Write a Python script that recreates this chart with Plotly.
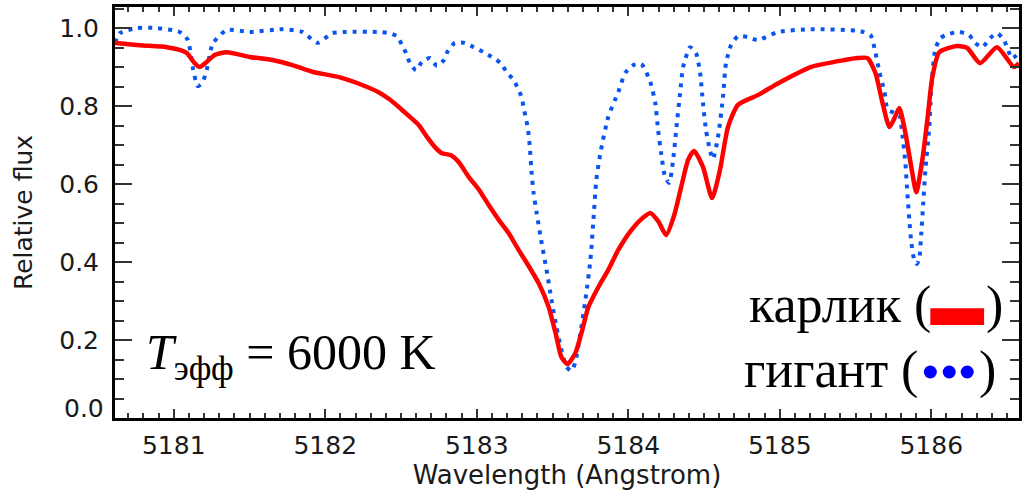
import plotly.graph_objects as go

# Dwarf (карлик) spectrum: wavelength (Å) and relative flux
dwarf_wl = [5180.612, 5180.776, 5180.954, 5181.039, 5181.086, 5181.138, 5181.171, 5181.217, 5181.270,
            5181.349, 5181.500, 5181.651, 5181.783, 5181.914, 5182.092, 5182.243, 5182.355, 5182.421,
            5182.487, 5182.553, 5182.618, 5182.671, 5182.730, 5182.770, 5182.829, 5182.882, 5182.947,
            5183.013, 5183.079, 5183.145, 5183.211, 5183.276, 5183.342, 5183.408, 5183.474, 5183.520,
            5183.559, 5183.599, 5183.651, 5183.691, 5183.737, 5183.803, 5183.868, 5183.934, 5184.020,
            5184.086, 5184.145, 5184.197, 5184.250, 5184.303, 5184.349, 5184.395, 5184.434, 5184.493,
            5184.553, 5184.605, 5184.658, 5184.724, 5184.855, 5184.987, 5185.204, 5185.428, 5185.513,
            5185.579, 5185.632, 5185.678, 5185.724, 5185.757, 5185.789, 5185.829, 5185.875, 5185.901,
            5185.941, 5185.974, 5186.007, 5186.053, 5186.171, 5186.237, 5186.322, 5186.434, 5186.546,
            5186.579]
dwarf_flux = [0.962, 0.956, 0.951, 0.944, 0.936, 0.910, 0.900, 0.913, 0.931,
              0.938, 0.926, 0.918, 0.905, 0.888, 0.874, 0.854, 0.835, 0.818,
              0.797, 0.774, 0.751, 0.721, 0.692, 0.679, 0.674, 0.656, 0.618,
              0.586, 0.546, 0.508, 0.474, 0.431, 0.390, 0.346, 0.285, 0.218,
              0.156, 0.138, 0.167, 0.218, 0.285, 0.336, 0.380, 0.431, 0.482,
              0.510, 0.526, 0.505, 0.469, 0.520, 0.592, 0.662, 0.685, 0.644,
              0.564, 0.636, 0.746, 0.803, 0.828, 0.858, 0.900, 0.918, 0.923,
              0.923, 0.884, 0.808, 0.746, 0.769, 0.795, 0.731, 0.628, 0.579,
              0.662, 0.764, 0.874, 0.938, 0.954, 0.949, 0.910, 0.951, 0.900,
              0.910]

# Giant (гигант) spectrum
giant_wl = [5180.612, 5180.645, 5180.757, 5180.888, 5181.039, 5181.092, 5181.125, 5181.158, 5181.191,
            5181.217, 5181.257, 5181.349, 5181.500, 5181.717, 5181.849, 5181.947, 5182.046, 5182.138,
            5182.355, 5182.421, 5182.474, 5182.507, 5182.533, 5182.559, 5182.599, 5182.638, 5182.691,
            5182.737, 5182.783, 5182.809, 5182.855, 5182.921, 5182.980, 5183.046, 5183.099, 5183.158,
            5183.197, 5183.243, 5183.270, 5183.296, 5183.309, 5183.322, 5183.336, 5183.349, 5183.362,
            5183.375, 5183.395, 5183.428, 5183.461, 5183.493, 5183.526, 5183.559, 5183.592, 5183.625,
            5183.651, 5183.684, 5183.717, 5183.750, 5183.770, 5183.789, 5183.816, 5183.868, 5183.934,
            5183.980, 5184.033, 5184.086, 5184.145, 5184.178, 5184.197, 5184.217, 5184.243, 5184.270,
            5184.296, 5184.316, 5184.342, 5184.362, 5184.408, 5184.447, 5184.474, 5184.493, 5184.513,
            5184.539, 5184.559, 5184.592, 5184.625, 5184.645, 5184.678, 5184.724, 5184.789, 5184.855,
            5184.987, 5185.204, 5185.533, 5185.599, 5185.632, 5185.658, 5185.691, 5185.711, 5185.757,
            5185.789, 5185.809, 5185.829, 5185.842, 5185.855, 5185.868, 5185.888, 5185.905, 5185.921,
            5185.934, 5185.947, 5185.961, 5185.987, 5186.000, 5186.026, 5186.059, 5186.118, 5186.184,
            5186.250, 5186.289, 5186.336, 5186.388, 5186.434, 5186.480, 5186.533, 5186.579]
giant_flux = [0.962, 0.987, 1.000, 1.000, 0.990, 0.970, 0.900, 0.851, 0.862,
              0.892, 0.960, 0.995, 0.990, 0.997, 0.990, 0.962, 0.987, 0.990,
              0.990, 0.987, 0.979, 0.956, 0.936, 0.910, 0.892, 0.913, 0.923,
              0.903, 0.918, 0.941, 0.962, 0.962, 0.951, 0.938, 0.926, 0.910,
              0.887, 0.867, 0.846, 0.823, 0.797, 0.772, 0.746, 0.700, 0.628,
              0.577, 0.526, 0.449, 0.379, 0.303, 0.233, 0.174, 0.131, 0.121,
              0.144, 0.218, 0.303, 0.405, 0.508, 0.610, 0.680, 0.772, 0.836,
              0.885, 0.905, 0.908, 0.862, 0.808, 0.738, 0.679, 0.618, 0.603,
              0.662, 0.738, 0.833, 0.900, 0.951, 0.936, 0.885, 0.808, 0.738,
              0.687, 0.664, 0.720, 0.823, 0.910, 0.956, 0.979, 0.977, 0.969,
              0.990, 0.997, 0.992, 0.982, 0.936, 0.887, 0.836, 0.792, 0.782,
              0.777, 0.726, 0.654, 0.577, 0.508, 0.451, 0.405, 0.395, 0.410,
              0.474, 0.551, 0.636, 0.746, 0.849, 0.944, 0.974, 0.985, 0.990,
              0.982, 0.962, 0.951, 0.974, 0.987, 0.969, 0.923, 0.936]

x_ticks = [5181, 5182, 5183, 5184, 5185, 5186]
y_ticks = [0.2, 0.4, 0.6, 0.8, 1.0]
y_ticklabels = ["0.2", "0.4", "0.6", "0.8", "1.0"]

label_dwarf = "карлик ("
label_giant = "гигант ("
temp_text = "<i>T</i><sub>эфф</sub> = 6000 K"

SANS = "DejaVu Sans"
SERIF = "Liberation Serif"
TXT = "#1a1a1a"

fig = go.Figure()
fig.add_trace(go.Scatter(x=giant_wl, y=giant_flux, mode="lines",
                         line=dict(color="#0A55F0", width=4, dash="4px,6px", shape="spline", smoothing=0.6),
                         showlegend=False, hoverinfo="skip"))
fig.add_trace(go.Scatter(x=dwarf_wl, y=dwarf_flux, mode="lines",
                         line=dict(color="#FF0000", width=4.5, shape="spline", smoothing=0.6),
                         showlegend=False, hoverinfo="skip"))

axis_common = dict(showline=True, linecolor="black", linewidth=3, mirror="ticks",
                   ticks="inside", tickcolor="#333", tickwidth=2, showgrid=False, zeroline=False,
                   tickfont=dict(family=SANS, size=25, color=TXT))

fig.update_xaxes(range=[5180.612, 5186.579], tickvals=x_ticks, ticklen=9,
                 minor=dict(dtick=0.1, tick0=5181, ticks="inside", ticklen=5, tickcolor="#333", tickwidth=1.5),
                 ticklabelstandoff=3,
                 title=dict(text="Wavelength (Angstrom)", font=dict(family=SANS, size=26, color=TXT), standoff=2),
                 **axis_common)
fig.update_yaxes(range=[0, 1.054], tickvals=y_ticks, ticktext=y_ticklabels, ticklen=17,
                 minor=dict(dtick=0.05, tick0=0, ticks="inside", ticklen=9, tickcolor="#333", tickwidth=1.5),
                 ticklabelstandoff=8,
                 title=dict(text="Relative flux", font=dict(family=SANS, size=25, color=TXT), standoff=20),
                 **axis_common)

annotations = [
    dict(text="0.0", xref="paper", yref="y", x=0, y=0, xanchor="right", yanchor="middle",
         xshift=-9, yshift=10, showarrow=False, font=dict(family=SANS, size=25, color=TXT)),
    dict(text=temp_text, xref="paper", yref="paper", x=0.032, y=0.15, xanchor="left", yanchor="middle",
         showarrow=False, font=dict(family=SERIF, size=50, color="black")),
    dict(text=label_dwarf, xref="paper", yref="paper", x=0.905, y=0.274, xanchor="right", yanchor="middle",
         showarrow=False, font=dict(family=SERIF, size=52, color="black")),
    dict(text=")", xref="paper", yref="paper", x=0.9614, y=0.274, xanchor="left", yanchor="middle",
         showarrow=False, font=dict(family=SERIF, size=52, color="black")),
    dict(text=label_giant, xref="paper", yref="paper", x=0.891, y=0.116, xanchor="right", yanchor="middle",
         showarrow=False, font=dict(family=SERIF, size=52, color="black")),
    dict(text=")", xref="paper", yref="paper", x=0.9537, y=0.116, xanchor="left", yanchor="middle",
         showarrow=False, font=dict(family=SERIF, size=52, color="black")),
]

shapes = [dict(type="rect", xref="paper", yref="paper", x0=0.9019, x1=0.9614, y0=0.226, y1=0.267,
               fillcolor="#FF0000", line=dict(width=0))]
for cx in [0.9019, 0.9228, 0.9427]:
    shapes.append(dict(type="circle", xref="paper", yref="paper",
                       x0=cx - 0.0072, x1=cx + 0.0072, y0=0.1119 - 0.0158, y1=0.1119 + 0.0158,
                       fillcolor="#0000FF", line=dict(width=0)))

fig.update_layout(width=1022, height=493, margin=dict(l=115, r=0, t=7, b=75),
                  plot_bgcolor="white", paper_bgcolor="white",
                  annotations=annotations, shapes=shapes)

fig.write_html("out.html", config={"displayModeBar": False},
               post_script="document.body.style.margin='0px';")
